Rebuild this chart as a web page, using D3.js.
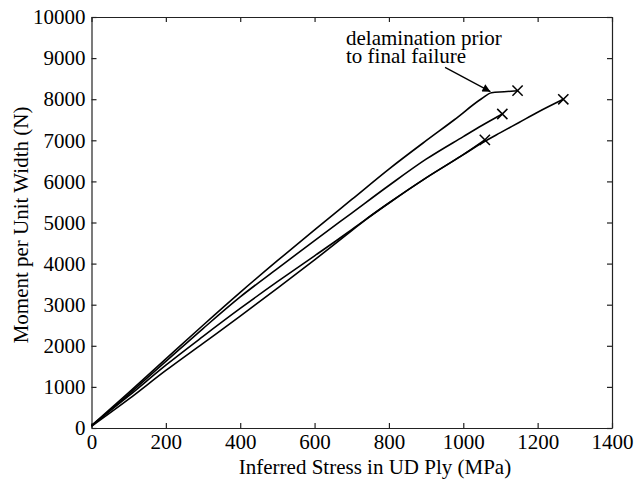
<!DOCTYPE html>
<html lang="en">
<head>
<meta charset="UTF-8">
<title>Moment vs inferred stress</title>
<script src="https://d3js.org/d3.v7.min.js"></script>
<style>
    body { margin: 0; background: #fff; }
    svg text { font-family: "Liberation Serif", "Times New Roman", serif; fill: #000; }
</style>
</head>
<body>
<svg id="chart" width="636" height="482"></svg>
<script>
    // data: [inferred stress (MPa), moment (N)]
    const specimenA = [[0, 60], [100, 860], [200, 1680], [300, 2500], [400, 3300], [500, 4070],
        [600, 4820], [700, 5560], [800, 6300], [900, 6990], [976, 7500], [1049, 8010],
        [1076, 8158], [1110, 8180], [1146, 8207]];
    const specimenB = [[0, 50], [100, 820], [200, 1620], [300, 2420], [400, 3190], [500, 3880],
        [600, 4560], [700, 5230], [800, 5900], [900, 6540], [1000, 7090], [1050, 7360], [1105, 7640]];
    const specimenC = [[0, 60], [100, 780], [200, 1530], [300, 2230], [400, 2910], [500, 3560],
        [600, 4190], [661, 4574], [700, 4827], [800, 5475], [900, 6086], [1000, 6650],
        [1049, 6927], [1100, 7186], [1150, 7434], [1200, 7683], [1269, 7998]];
    const specimenD = [[0, 40], [100, 700], [200, 1400], [300, 2060], [400, 2720], [500, 3400],
        [600, 4090], [700, 4800], [736, 5060], [800, 5475], [900, 6086], [1000, 6650], [1058, 7010]];
    const failurePoints = [[1146, 8207], [1105, 7640], [1269, 7998], [1058, 7010]];

    const xTicks = [0, 200, 400, 600, 800, 1000, 1200, 1400];
    const yTicks = [0, 1000, 2000, 3000, 4000, 5000, 6000, 7000, 8000, 9000, 10000];
    const noteLines = ["delamination prior", "to final failure"];
    const noteArrow = [[951, 8776], [1073, 8183]];

    const svg = d3.select("#chart");
    const plotLeft = 91.5, plotRight = 612, plotTop = 17, plotBottom = 428;
    const fontSize = "21px";

    const x = d3.scaleLinear().domain([0, 1400]).range([plotLeft, plotRight]);
    const y = d3.scaleLinear().domain([0, 10000]).range([plotBottom, plotTop]);

    // axes, ticks pointing inwards on all four sides
    const axisColor = "#222";
    function styleAxis(g) {
        g.selectAll("path, line").attr("stroke", axisColor).attr("stroke-width", 1.2);
        g.selectAll("text").style("font-size", fontSize).attr("fill", "#000");
    }
    svg.append("g").attr("transform", `translate(0,${plotBottom})`)
        .call(d3.axisBottom(x).tickValues(xTicks).tickFormat(d3.format("d"))
            .tickSizeInner(-5).tickSizeOuter(0).tickPadding(6))
        .call(styleAxis);
    svg.append("g").attr("transform", `translate(0,${plotTop})`)
        .call(d3.axisTop(x).tickValues(xTicks).tickSizeInner(-5).tickSizeOuter(0).tickFormat(""))
        .call(styleAxis);
    svg.append("g").attr("transform", `translate(${plotLeft},0)`)
        .call(d3.axisLeft(y).tickValues(yTicks).tickFormat(d3.format("d"))
            .tickSizeInner(-5).tickSizeOuter(0).tickPadding(6))
        .call(styleAxis);
    svg.append("g").attr("transform", `translate(${plotRight},0)`)
        .call(d3.axisRight(y).tickValues(yTicks).tickSizeInner(-5).tickSizeOuter(0).tickFormat(""))
        .call(styleAxis);

    // axis titles
    svg.append("text")
        .attr("x", 375)
        .attr("y", 474)
        .attr("text-anchor", "middle")
        .style("font-size", fontSize)
        .text("Inferred Stress in UD Ply (MPa)");
    svg.append("text")
        .attr("transform", "translate(28,225) rotate(-90)")
        .attr("text-anchor", "middle")
        .style("font-size", fontSize)
        .text("Moment per Unit Width (N)");

    // curves
    const line = d3.line().x(d => x(d[0])).y(d => y(d[1])).curve(d3.curveMonotoneX);
    [specimenA, specimenB, specimenC, specimenD].forEach(s => {
        svg.append("path")
            .datum(s)
            .attr("d", line)
            .attr("fill", "none")
            .attr("stroke", "#000")
            .attr("stroke-width", 1.6);
    });

    // failure markers
    const cross = d3.symbol().type(d3.symbolTimes).size(70);
    svg.selectAll(".fail")
        .data(failurePoints)
        .join("path")
        .attr("class", "fail")
        .attr("transform", d => `translate(${x(d[0])},${y(d[1])})`)
        .attr("d", cross)
        .attr("fill", "none")
        .attr("stroke", "#000")
        .attr("stroke-width", 1.5);

    // annotation
    svg.append("defs").append("marker")
        .attr("id", "arrow")
        .attr("viewBox", "0 0 10 10")
        .attr("refX", 10).attr("refY", 5)
        .attr("markerWidth", 10).attr("markerHeight", 8)
        .attr("markerUnits", "userSpaceOnUse")
        .attr("orient", "auto")
        .append("path")
        .attr("d", "M0,0 L10,5 L0,10 Z")
        .attr("fill", "#000");
    svg.append("line")
        .attr("x1", x(noteArrow[0][0])).attr("y1", y(noteArrow[0][1]))
        .attr("x2", x(noteArrow[1][0])).attr("y2", y(noteArrow[1][1]))
        .attr("stroke", "#000")
        .attr("stroke-width", 1.3)
        .attr("marker-end", "url(#arrow)");
    noteLines.forEach((t, i) => {
        svg.append("text")
            .attr("x", 346)
            .attr("y", 45 + i * 18)
            .style("font-size", fontSize)
            .text(t);
    });
</script>
</body>
</html>
